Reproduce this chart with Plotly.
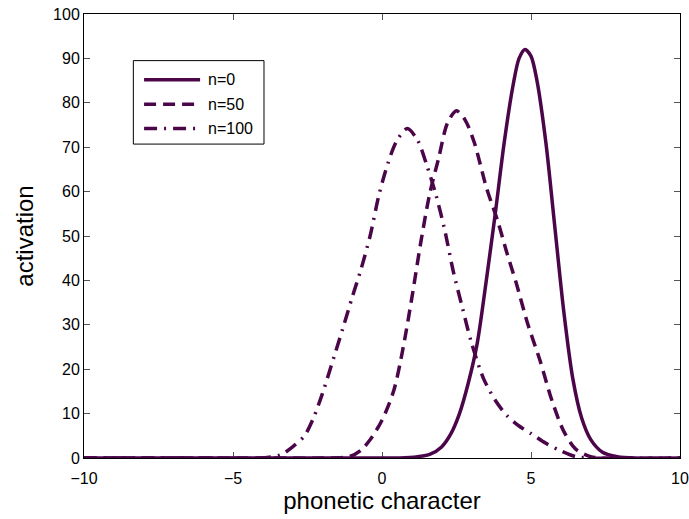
import plotly.graph_objects as go

# phonetic character axis positions and activation levels for each stage
x_n0 = [-10, -4, 0.0, 0.6, 1.2, 1.6, 2.0, 2.3, 2.6, 2.9, 3.2, 3.5, 3.8, 4.1, 4.4, 4.6, 4.8,
        5.0, 5.2, 5.5, 5.8, 6.1, 6.4, 6.7, 7.0, 7.4, 7.9, 8.5, 10]
y_n0 = [0, 0, 0, 0, 0.3, 0.8, 2.5, 5.3, 10, 17, 26, 40, 55, 71, 84, 90, 92,
        90.5, 85, 71, 52, 33, 18, 9, 4.2, 1.3, 0.3, 0, 0]

x_n50 = [-10, -4, -2.0, -1.1, -0.7, -0.4, 0.0, 0.4, 0.7, 1.0, 1.3, 1.6, 1.9, 2.2, 2.5,
         2.8, 3.1, 3.5, 3.9, 4.2, 4.5, 4.9, 5.3, 5.7, 6.1, 6.5, 7.0, 7.5, 10]
y_n50 = [0, 0, 0, 0.3, 1.8, 4.1, 8.5, 15.3, 24.5, 36, 48.5, 59.5, 67.5, 75.5, 78.2,
         76, 71, 61, 53, 46, 39.5, 30, 22, 13, 6, 2, 0.3, 0, 0]

x_n100 = [-10, -6, -4.0, -3.4, -3.0, -2.6, -2.3, -2.0, -1.6, -1.3, -1.0, -0.7, -0.4, -0.1,
          0.2, 0.5, 0.85, 1.2, 1.5, 1.8, 2.1, 2.4, 2.7, 3.0, 3.4, 3.8, 4.2, 4.6, 5.0,
          5.5, 6.0, 6.5, 7.0, 10]
y_n100 = [0, 0, 0, 0.7, 2.5, 5, 9, 14.5, 23, 29.5, 36.2, 42.6, 50, 59.3,
          66.4, 71.5, 74.2, 71.5, 66, 59.5, 51.5, 41.8, 33.8, 26, 18, 13, 9.5, 7.2, 5.5,
          3.3, 1.6, 0.3, 0, 0]

series_names = ["n=0", "n=50", "n=100"]
x_ticks = [-10, -5, 0, 5, 10]
y_ticks = [0, 10, 20, 30, 40, 50, 60, 70, 80, 90, 100]

LINE_COLOR = "#4b0649"
FONT = "Liberation Sans, Arial, Helvetica, sans-serif"
dash_styles = ["solid", "12px,7px", "13px,7px,2px,7px"]

fig = go.Figure()
for xs, ys, name, dash in zip([x_n0, x_n50, x_n100], [y_n0, y_n50, y_n100],
                              series_names, dash_styles):
    fig.add_trace(go.Scatter(
        x=xs, y=ys, name=name, mode="lines",
        line=dict(color=LINE_COLOR, width=3.5, dash=dash, shape="spline", smoothing=0.8),
        showlegend=False,
    ))

# boxed legend in the upper-left corner of the axes
leg_x0, leg_x1 = 0.0828, 0.302
leg_y0, leg_y1 = 0.707, 0.895
row_y = [0.852, 0.797, 0.742]
shapes = [dict(type="rect", xref="paper", yref="paper", x0=leg_x0, x1=leg_x1,
               y0=leg_y0, y1=leg_y1, line=dict(color="black", width=1),
               fillcolor="white", layer="above")]
annotations = []
for yy, name, dash in zip(row_y, series_names, dash_styles):
    shapes.append(dict(type="line", xref="paper", yref="paper", x0=0.1008, x1=0.1948,
                       y0=yy, y1=yy, line=dict(color=LINE_COLOR, width=3.5, dash=dash),
                       layer="above"))
    annotations.append(dict(xref="paper", yref="paper", x=0.2049, y=yy, text=name,
                            showarrow=False, xanchor="left", yanchor="middle",
                            font=dict(family=FONT, size=16, color="black")))

axis_common = dict(
    showgrid=False, zeroline=False, showline=True, linecolor="black", linewidth=1,
    mirror="ticks", ticks="inside", ticklen=6, tickcolor="#555", tickwidth=1,
    tickfont=dict(family=FONT, size=16, color="black"), layer="below traces",
    automargin=False,
)

fig.update_layout(
    width=689, height=519,
    margin=dict(l=84, r=9, t=14, b=61),
    paper_bgcolor="white", plot_bgcolor="white",
    xaxis=dict(range=[-10, 10], tickvals=x_ticks, ticklabelstandoff=6,
               title=dict(text="phonetic character", standoff=2,
                          font=dict(family=FONT, size=24, color="black")),
               **axis_common),
    yaxis=dict(range=[0, 100], tickvals=y_ticks, ticklabelstandoff=0,
               title=dict(text="activation", standoff=12,
                          font=dict(family=FONT, size=24, color="black")),
               **axis_common),
    shapes=shapes, annotations=annotations,
)

fig.write_html("out.html")
